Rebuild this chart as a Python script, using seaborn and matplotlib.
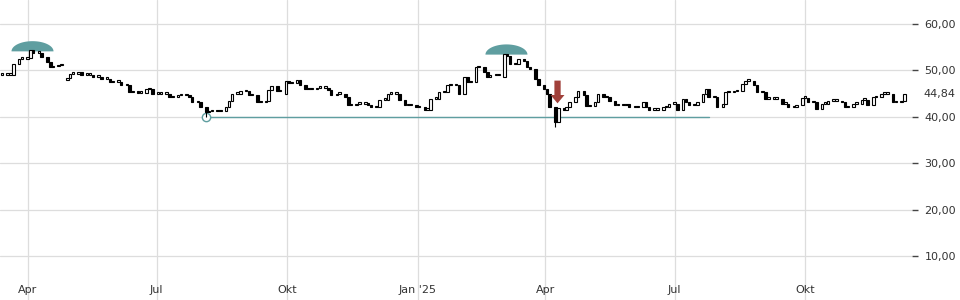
import numpy as np
import pandas as pd
import matplotlib
matplotlib.use("Agg")
import matplotlib.pyplot as plt
import matplotlib.dates as mdates
from matplotlib.patches import Polygon
import seaborn as sns

# ---- data (one close per 2 trading days) ----
start_date = "2024-03-14"
closes = [
    49.1, 49.1, 49.1, 51.4, 52.5, 52.5, 52.7, 54.3, 53.8, 53.8,
    52.9, 51.8, 50.7, 50.9, 51.1, 51.1, 48.3, 49.3, 49.3, 49.6,
    49.1, 49.1, 49.1, 48.6, 48.6, 48.2, 48.2, 47.5, 47.6, 47.6,
    46.8, 46.8, 45.3, 45.3, 45.2, 45.2, 46.0, 46.0, 45.0, 45.0,
    45.0, 45.0, 44.2, 44.2, 44.6, 44.6, 44.6, 44.2, 43.2, 43.2,
    42.2, 41.0, 41.2, 41.2, 41.2, 41.2, 42.1, 43.5, 45.0, 45.0,
    45.5, 45.5, 44.6, 44.6, 43.2, 43.2, 43.5, 45.7, 46.6, 45.5,
    45.5, 47.8, 47.3, 47.3, 48.0, 46.8, 46.0, 46.0, 46.0, 46.3,
    46.3, 46.3, 45.7, 44.6, 45.0, 45.0, 44.3, 42.5, 42.5, 42.8,
    42.8, 42.8, 42.6, 42.1, 42.1, 43.7, 43.7, 45.0, 45.0, 45.0,
    43.7, 42.5, 42.5, 42.5, 42.1, 42.1, 41.5, 41.5, 43.9, 43.9,
    45.3, 45.3, 46.8, 46.8, 46.8, 45.0, 48.6, 47.4, 47.4, 50.7,
    50.7, 49.6, 48.6, 48.9, 48.9, 48.9, 53.6, 53.2, 51.4, 51.4,
    52.5, 52.0, 50.7, 50.3, 48.2, 46.8, 46.0, 45.0, 42.1, 38.9,
    42.0, 41.4, 42.1, 43.2, 44.2, 45.5, 44.6, 42.3, 42.3, 43.2,
    45.0, 44.2, 44.2, 43.5, 42.5, 42.5, 42.5, 42.8, 42.1, 42.1,
    42.1, 43.2, 42.1, 41.5, 41.5, 41.5, 42.1, 42.1, 42.8, 42.8,
    41.4, 43.9, 43.2, 42.5, 42.5, 43.2, 45.0, 46.0, 44.2, 44.2,
    42.1, 42.8, 45.3, 45.3, 45.5, 45.5, 47.1, 47.8, 47.8, 46.8,
    45.3, 45.3, 43.9, 43.9, 43.9, 43.9, 42.8, 42.8, 42.1, 42.1,
    42.5, 44.1, 44.1, 43.2, 43.2, 41.7, 42.8, 42.8, 43.5, 43.5,
    43.5, 43.2, 42.1, 42.1, 42.8, 42.8, 43.7, 43.7, 42.5, 44.2,
    44.2, 45.0, 45.0, 45.0, 43.2, 43.2, 43.5, 44.84,
]
gap_opens = {16: 48.0, 71: 45.0, 116: 45.0, 126: 48.6}
wick_lows = {51: 40.0, 139: 37.8}
tick_dates = ["2024-04-01", "2024-07-01", "2024-10-01", "2025-01-01",
              "2025-04-01", "2025-07-01", "2025-10-01"]
tick_labels = ["Apr", "Jul", "Okt", "Jan '25", "Apr", "Jul", "Okt"]
y_ticks = [10, 20, 30, 40, 50, 60]
last_price = 44.84
support_level = 40.0
support_start_idx = 51
support_end_idx = 178
signal_idx = 139
dome_peaks = [7, 126]

# ---- styling ----
sns.set_style("white")
plt.rcParams["font.family"] = ["DejaVu Sans"]
TEAL = "#5f9ea0"
RED = "#a0403a"
GRID = "#dddddd"
TXT = "#333333"

dates = pd.date_range(start_date, periods=len(closes), freq="2B")
xs = mdates.date2num(dates)
closes_a = np.array(closes)
opens = np.concatenate([[closes_a[0]], closes_a[:-1]])
for k, v in gap_opens.items():
    opens[k] = v
highs = np.maximum(opens, closes_a)
lows = np.minimum(opens, closes_a)
for k, v in wick_lows.items():
    lows[k] = min(lows[k], v)

fig = plt.figure(figsize=(9.6, 3.0), dpi=100)
ax = fig.add_axes([0, 0, 912 / 960, 1])

ref = pd.Timestamp("2024-04-01")
ax.set_xlim(mdates.date2num(ref - pd.Timedelta(days=19.4)),
            mdates.date2num(ref + pd.Timedelta(days=623.3)))
ax.set_ylim(0.52, 65.17)

# grid
ax.set_xticks(mdates.date2num(pd.to_datetime(tick_dates)))
ax.set_xticklabels(tick_labels)
ax.set_yticks(y_ticks)
ax.set_yticklabels([f"{v:.2f}".replace(".", ",") for v in y_ticks])
ax.grid(True, color=GRID, linewidth=0.9)
ax.set_axisbelow(True)
for s in ax.spines.values():
    s.set_visible(False)
ax.yaxis.tick_right()
ax.tick_params(axis="y", length=4, width=1, color="#444444", pad=5,
               labelsize=8, labelcolor=TXT)
ax.tick_params(axis="x", direction="in", length=5, width=1, color="#444444",
               pad=-11, labelsize=8, labelcolor=TXT)

# support line and marker
sns.lineplot(x=[xs[support_start_idx], xs[support_end_idx]],
             y=[support_level, support_level], color=TEAL, linewidth=1, ax=ax)
ax.plot([xs[support_start_idx]], [support_level], marker="o", markersize=6,
        markerfacecolor="white", markeredgecolor=TEAL, markeredgewidth=1, zorder=3)

# domes above the peaks
for p in dome_peaks:
    t = np.linspace(0, np.pi, 60)
    cx = xs[p] + 1.5
    base = closes_a[p] - 0.2
    px = cx + 14.8 * np.cos(t)
    py = base + 2.2 * np.sin(t)
    ax.add_patch(Polygon(np.column_stack([px, py]), closed=True,
                         facecolor=TEAL, edgecolor="none", zorder=2))

# candles
ax.vlines(xs, lows, highs, color="black", linewidth=0.8, zorder=4)
body_low = np.minimum(opens, closes_a)
body_h = np.maximum(np.abs(closes_a - opens), 0.3)
up = closes_a >= opens
ax.bar(xs[up], body_h[up], bottom=body_low[up],
       width=1.8, facecolor="white", edgecolor="black", linewidth=0.8, zorder=5)
ax.bar(xs[~up], body_h[~up], bottom=body_low[~up],
       width=1.8, facecolor="black", edgecolor="black", linewidth=0.8, zorder=5)

# signal arrow
ax.annotate("", xy=(xs[signal_idx] + 1.5, 42.9), xytext=(xs[signal_idx] + 1.5, 47.8),
            arrowprops=dict(arrowstyle="simple,head_length=0.6,head_width=1.0,tail_width=0.45",
                            fc=RED, ec="none", shrinkA=0, shrinkB=0), zorder=6)

# last price label
ax.annotate(f"{last_price:.2f}".replace(".", ","), xy=(1, last_price),
            xycoords=("axes fraction", "data"), xytext=(8, 0),
            textcoords="offset points", ha="left", va="center",
            fontsize=8, color=TXT)

fig.savefig("out.png", dpi=100)
